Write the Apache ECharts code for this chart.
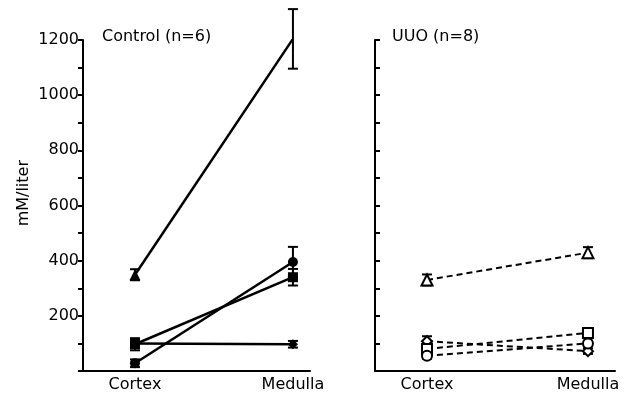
<!DOCTYPE html>
<html><head><meta charset="utf-8">
<script src="https://cdn.jsdelivr.net/npm/echarts@6/dist/echarts.min.js"></script>
<style>html,body{margin:0;padding:0;background:#fff}#c{width:631px;height:396px}</style>
</head><body><div id="c"></div>
<script>
var sites = ['Cortex', 'Medulla'];
var yTicks = [200, 400, 600, 800, 1000, 1200];
// Control (n=6)
var ctrlTriangle = [349, 1204], ctrlTriangleErr = [20, 108];
var ctrlCircle = [28, 395], ctrlCircleErr = [14, 55];
var ctrlSquare = [97, 340], ctrlSquareErr = [22, 30];
var ctrlDiamond = [100, 97], ctrlDiamondErr = [14, 12];
// UUO (n=8)
var uuoTriangle = [330, 429], uuoTriangleErr = [20, 20];
var uuoDiamond = [108, 72], uuoDiamondErr = [18, 10];
var uuoSquare = [80, 138], uuoSquareErr = [10, 12];
var uuoCircle = [55, 100], uuoCircleErr = [10, 10];

var FONT = 'DejaVu Sans';
var chart = echarts.init(document.getElementById('c'));

function pts(vals){ return vals.map(function(v,i){ return [i, v]; }); }
function errData(vals, errs){ return vals.map(function(v,i){ return [i, v - errs[i], v + errs[i]]; }); }

function lineSeries(idx, vals, symbol, dashed, filled){
  return {
    type: 'line', xAxisIndex: idx, yAxisIndex: idx, data: pts(vals),
    symbol: symbol, symbolSize: symbol.indexOf('triangle') >= 0 ? 11 : 10,
    lineStyle: {color: '#000', width: dashed ? 2 : 2.5, type: dashed ? [6, 4] : 'solid'},
    itemStyle: filled ? {color: '#000'} : {color: '#fff', borderColor: '#000', borderWidth: 2},
    z: 3, animation: false
  };
}
function errSeries(idx, vals, errs){
  return {
    type: 'custom', xAxisIndex: idx, yAxisIndex: idx, data: errData(vals, errs), z: 2, animation: false,
    renderItem: function(params, api){
      var x = api.value(0);
      var lo = api.coord([x, api.value(1)]);
      var hi = api.coord([x, api.value(2)]);
      var w = 5;
      var st = {stroke: '#000', lineWidth: 2};
      return {type: 'group', children: [
        {type: 'line', shape: {x1: lo[0], y1: lo[1], x2: hi[0], y2: hi[1]}, style: st},
        {type: 'line', shape: {x1: lo[0]-w, y1: lo[1], x2: lo[0]+w, y2: lo[1]}, style: st},
        {type: 'line', shape: {x1: hi[0]-w, y1: hi[1], x2: hi[0]+w, y2: hi[1]}, style: st}
      ]};
    }
  };
}

function xAxis(idx, min, max){
  return {
    type: 'value', gridIndex: idx, min: min, max: max,
    axisLine: {show: true, onZero: false, lineStyle: {color: '#000', width: 2}},
    axisTick: {show: false}, splitLine: {show: false},
    axisLabel: {customValues: [0, 1], formatter: function(v){ return sites[Math.round(v)]; },
      color: '#000', fontFamily: FONT, fontSize: 16, margin: 6}
  };
}
function yAxis(idx, showLabels){
  return {
    type: 'value', gridIndex: idx, min: 0, max: 1200, interval: 100,
    axisLine: {show: true, onZero: false, lineStyle: {color: '#000', width: 2}},
    axisTick: {show: true, inside: !showLabels, length: 5, lineStyle: {color: '#000', width: 2}},
    splitLine: {show: false},
    axisLabel: {show: showLabels, color: '#000', fontFamily: FONT, fontSize: 16, margin: 4,
      formatter: function(v){ return yTicks.indexOf(v) >= 0 ? String(v) : ''; }}
  };
}

chart.setOption({
  backgroundColor: '#fff',
  animation: false,
  title: [
    {text: 'Control (n=6)', left: 97, top: 24, textStyle: {fontFamily: FONT, fontSize: 16, fontWeight: 'normal', color: '#000'}},
    {text: 'UUO (n=8)', left: 387, top: 24, textStyle: {fontFamily: FONT, fontSize: 16, fontWeight: 'normal', color: '#000'}}
  ],
  graphic: [{type: 'text', left: 16, top: 160, rotation: Math.PI/2,
    style: {text: 'mM/liter', fontFamily: FONT, fontSize: 16, fill: '#000'}}],
  grid: [
    {left: 83, right: 321, top: 40, bottom: 25},
    {left: 375, right: 16, top: 40, bottom: 25}
  ],
  xAxis: [xAxis(0, -0.329, 1.108), xAxis(1, -0.323, 1.168)],
  yAxis: [yAxis(0, true), yAxis(1, false)],
  series: [
    errSeries(0, ctrlTriangle, ctrlTriangleErr), lineSeries(0, ctrlTriangle, 'triangle', false, true),
    errSeries(0, ctrlCircle, ctrlCircleErr), lineSeries(0, ctrlCircle, 'circle', false, true),
    errSeries(0, ctrlSquare, ctrlSquareErr), lineSeries(0, ctrlSquare, 'rect', false, true),
    errSeries(0, ctrlDiamond, ctrlDiamondErr), lineSeries(0, ctrlDiamond, 'diamond', false, true),
    errSeries(1, uuoTriangle, uuoTriangleErr), lineSeries(1, uuoTriangle, 'triangle', true, false),
    errSeries(1, uuoDiamond, uuoDiamondErr), lineSeries(1, uuoDiamond, 'diamond', true, false),
    errSeries(1, uuoSquare, uuoSquareErr), lineSeries(1, uuoSquare, 'rect', true, false),
    errSeries(1, uuoCircle, uuoCircleErr), lineSeries(1, uuoCircle, 'circle', true, false)
  ]
});
</script></body></html>
